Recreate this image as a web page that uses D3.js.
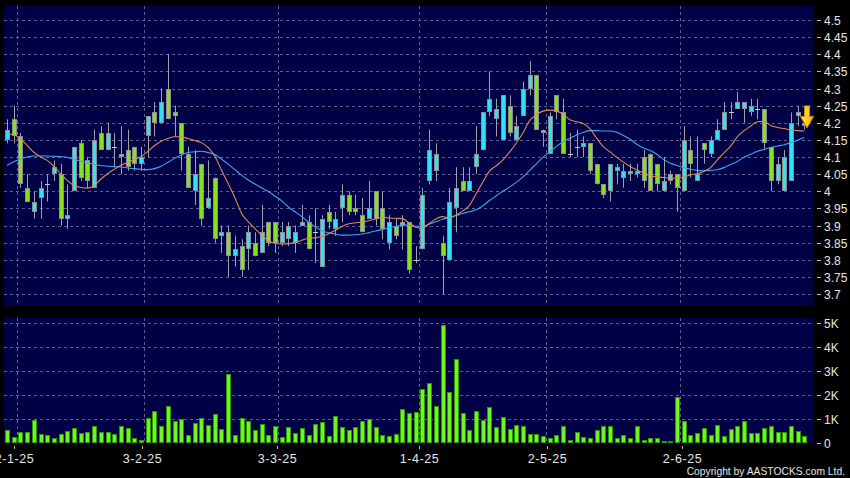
<!DOCTYPE html>
<html><head><meta charset="utf-8">
<script src="https://cdn.jsdelivr.net/npm/d3@7/dist/d3.min.js"></script>
<style>
html,body{margin:0;padding:0;background:#000;}
svg{display:block;}
text{font-family:"Liberation Sans",Arial,sans-serif;fill:#e6e6e6;}
</style></head><body>
<svg id="c" width="850" height="478"></svg>
<script>
// ---- categories (trading days) ----
const dates = [
"2024-12-30","2024-12-31","2025-01-02","2025-01-03",
"2025-01-06","2025-01-07","2025-01-08","2025-01-09","2025-01-10",
"2025-01-13","2025-01-14","2025-01-15","2025-01-16","2025-01-17",
"2025-01-20","2025-01-21","2025-01-22","2025-01-23","2025-01-24",
"2025-01-27","2025-01-28",
"2025-02-03","2025-02-04","2025-02-05","2025-02-06","2025-02-07",
"2025-02-10","2025-02-11","2025-02-12","2025-02-13","2025-02-14",
"2025-02-17","2025-02-18","2025-02-19","2025-02-20","2025-02-21",
"2025-02-24","2025-02-25","2025-02-26","2025-02-27","2025-02-28",
"2025-03-03","2025-03-04","2025-03-05","2025-03-06","2025-03-07",
"2025-03-10","2025-03-11","2025-03-12","2025-03-13","2025-03-14",
"2025-03-17","2025-03-18","2025-03-19","2025-03-20","2025-03-21",
"2025-03-24","2025-03-25","2025-03-26","2025-03-27","2025-03-28",
"2025-03-31","2025-04-01","2025-04-02","2025-04-03",
"2025-04-07","2025-04-08","2025-04-09","2025-04-10","2025-04-11",
"2025-04-14","2025-04-15","2025-04-16","2025-04-17",
"2025-04-22","2025-04-23","2025-04-24","2025-04-25",
"2025-04-28","2025-04-29","2025-04-30","2025-05-02",
"2025-05-06","2025-05-07","2025-05-08","2025-05-09",
"2025-05-12","2025-05-13","2025-05-14","2025-05-15","2025-05-16",
"2025-05-19","2025-05-20","2025-05-21","2025-05-22","2025-05-23",
"2025-05-26","2025-05-27","2025-05-28","2025-05-29","2025-05-30",
"2025-06-02","2025-06-03","2025-06-04","2025-06-05","2025-06-06",
"2025-06-09","2025-06-10","2025-06-11","2025-06-12","2025-06-13",
"2025-06-16","2025-06-17","2025-06-18","2025-06-19","2025-06-20",
"2025-06-23","2025-06-24","2025-06-25","2025-06-26"];

// ---- OHLC ----
const open = [4.15,4.21,4.16,4.01,3.94,3.98,4.02,4.05,4.05,3.92,
4.00,4.14,4.09,4.01,4.17,4.12,4.13,4.10,4.12,4.13,
4.08,4.16,4.23,4.20,4.30,4.23,4.20,4.11,4.00,4.08,
3.95,4.04,3.87,3.88,3.81,3.84,3.83,3.85,3.82,3.91,
3.91,3.85,3.86,3.85,3.90,3.91,3.88,3.78,3.94,3.89,
3.95,3.99,3.95,3.93,3.92,4.00,3.95,3.85,3.90,3.90,
3.91,3.80,3.83,4.03,4.06,3.85,3.80,3.95,4.03,4.00,
4.07,4.12,4.23,4.21,4.15,4.25,4.15,4.22,4.30,4.34,
4.18,4.11,4.28,4.23,4.11,4.13,4.13,4.14,4.08,4.02,
4.00,4.06,4.04,4.05,4.05,4.10,4.11,4.08,4.00,4.03,
4.05,4.00,4.12,4.03,4.14,4.11,4.15,4.18,4.23,4.24,
4.24,4.23,4.24,4.24,4.13,4.03,4.00,4.03,4.22,4.20];
const high = [4.21,4.25,4.17,4.05,4.00,4.03,4.05,4.09,4.08,4.02,
4.13,4.15,4.10,4.18,4.19,4.20,4.17,4.19,4.18,4.13,
4.13,4.22,4.26,4.30,4.40,4.25,4.20,4.13,4.12,4.08,
4.09,4.04,3.90,3.90,3.87,3.86,3.90,3.88,3.96,3.91,
3.91,3.91,3.91,3.90,3.96,3.93,3.95,3.93,3.96,3.94,
4.02,4.00,3.99,3.98,4.03,4.00,4.00,3.93,3.92,3.93,
3.91,3.84,4.01,4.18,4.14,3.87,4.01,4.07,4.07,4.07,
4.19,4.23,4.35,4.27,4.28,4.28,4.22,4.32,4.38,4.34,
4.18,4.23,4.28,4.27,4.17,4.18,4.16,4.14,4.08,4.02,
4.08,4.08,4.08,4.08,4.08,4.12,4.11,4.08,4.10,4.06,
4.05,4.19,4.16,4.16,4.14,4.16,4.21,4.26,4.26,4.29,
4.26,4.27,4.27,4.24,4.13,4.10,4.12,4.23,4.25,4.21];
const low = [4.14,4.14,4.01,3.97,3.92,3.92,3.97,4.03,3.90,3.89,
4.00,4.03,4.01,4.01,4.12,4.12,4.07,4.05,4.06,4.06,
4.06,4.10,4.16,4.20,4.21,4.16,4.06,4.01,3.96,3.90,
3.95,3.85,3.82,3.75,3.78,3.75,3.77,3.81,3.82,3.84,
3.82,3.84,3.84,3.82,3.90,3.83,3.79,3.78,3.89,3.87,
3.91,3.93,3.93,3.88,3.92,3.90,3.86,3.83,3.86,3.83,
3.76,3.79,3.83,4.02,4.03,3.70,3.80,3.88,4.00,4.00,
4.05,4.12,4.22,4.16,4.15,4.16,4.15,4.22,4.28,4.18,
4.13,4.11,4.21,4.11,4.10,4.10,4.10,4.05,4.02,3.98,
3.97,4.02,4.01,4.03,4.04,4.01,4.00,4.00,4.00,4.02,
3.94,4.00,4.04,4.03,4.08,4.10,4.15,4.18,4.21,4.24,
4.20,4.22,4.21,4.12,4.00,4.02,4.00,4.03,4.19,4.18];
const close = [4.18,4.16,4.02,3.97,3.97,4.01,4.02,4.07,3.92,3.93,
4.13,4.04,4.03,4.15,4.12,4.17,4.13,4.11,4.07,4.08,
4.10,4.22,4.20,4.26,4.21,4.22,4.11,4.01,4.05,3.92,
3.98,3.86,3.88,3.81,3.83,3.77,3.88,3.81,3.88,3.85,
3.85,3.88,3.90,3.88,3.91,3.83,3.88,3.92,3.91,3.92,
3.99,3.94,3.94,3.88,3.95,3.92,3.89,3.91,3.87,3.91,
3.77,3.80,3.99,4.12,4.11,3.81,3.97,4.01,4.00,4.03,
4.11,4.23,4.27,4.24,4.28,4.17,4.19,4.30,4.34,4.18,
4.17,4.22,4.23,4.11,4.11,4.13,4.14,4.06,4.02,3.99,
4.08,4.07,4.06,4.06,4.06,4.03,4.00,4.02,4.03,4.05,
4.01,4.15,4.08,4.05,4.12,4.15,4.18,4.23,4.23,4.26,
4.26,4.25,4.24,4.14,4.03,4.08,4.10,4.20,4.23,4.19];

// ---- moving averages ----
const maShort = [4.168,4.165,4.153,4.134,4.114,4.101,4.090,4.073,4.051,4.031,
4.017,4.011,4.009,4.016,4.035,4.051,4.064,4.076,4.084,4.093,
4.101,4.116,4.133,4.146,4.154,4.159,4.159,4.154,4.148,4.142,
4.128,4.103,4.062,4.023,3.982,3.936,3.911,3.891,3.872,3.855,
3.848,3.846,3.847,3.850,3.857,3.863,3.864,3.868,3.876,3.886,
3.897,3.905,3.908,3.910,3.914,3.919,3.924,3.922,3.921,3.920,
3.908,3.895,3.892,3.905,3.919,3.926,3.922,3.930,3.942,3.958,
3.992,4.026,4.059,4.074,4.091,4.114,4.140,4.170,4.206,4.223,
4.234,4.237,4.234,4.225,4.209,4.203,4.198,4.183,4.155,4.130,
4.115,4.099,4.085,4.072,4.062,4.053,4.045,4.042,4.040,4.038,
4.038,4.041,4.048,4.051,4.058,4.069,4.091,4.112,4.132,4.159,
4.177,4.190,4.203,4.204,4.192,4.186,4.183,4.179,4.177,4.176];
const maLong = [4.075,4.086,4.094,4.100,4.103,4.103,4.103,4.102,4.101,4.099,
4.093,4.088,4.083,4.079,4.075,4.073,4.072,4.071,4.068,4.066,
4.064,4.063,4.066,4.073,4.084,4.096,4.106,4.113,4.115,4.117,
4.113,4.107,4.094,4.079,4.063,4.047,4.033,4.021,4.010,3.999,
3.986,3.972,3.954,3.940,3.926,3.910,3.896,3.885,3.879,3.875,
3.872,3.872,3.873,3.875,3.879,3.884,3.888,3.894,3.897,3.901,
3.901,3.898,3.898,3.904,3.911,3.918,3.923,3.929,3.935,3.940,
3.946,3.957,3.973,3.986,4.000,4.012,4.026,4.041,4.061,4.080,
4.099,4.115,4.131,4.144,4.154,4.164,4.172,4.177,4.177,4.176,
4.176,4.172,4.163,4.152,4.137,4.126,4.119,4.108,4.093,4.082,
4.075,4.069,4.064,4.061,4.060,4.061,4.063,4.069,4.078,4.087,
4.099,4.108,4.117,4.122,4.128,4.132,4.136,4.142,4.149,4.157];

// ---- volume (shares) ----
const volume = [540,240,450,460,950,390,330,190,390,500,
610,420,460,690,450,450,380,690,630,210,
140,1040,1320,690,1530,930,990,350,830,1040,
750,1220,600,2860,330,1050,930,540,780,330,
720,260,650,400,630,350,790,875,290,1110,
670,530,670,920,1000,650,320,280,375,1430,
1240,1310,2260,2490,1560,4900,2125,3510,1250,540,
1350,970,1500,680,1070,570,760,720,360,360,
310,210,330,710,125,470,260,210,530,690,
710,220,320,210,720,125,210,210,80,70,
1900,900,330,430,610,350,740,290,570,720,
930,400,400,640,720,440,440,720,500,290];

// ---- ticks ----
const priceTicks = [4.5,4.45,4.4,4.35,4.3,4.25,4.2,4.15,4.1,4.05,4.0,3.95,3.9,3.85,3.8,3.75,3.7];
const priceTickLabels = ["4.5","4.45","4.4","4.35","4.3","4.25","4.2","4.15","4.1","4.05","4","3.95","3.9","3.85","3.8","3.75","3.7"];
const volTicks = [0,1000,2000,3000,4000,5000];
const volTickLabels = ["0","1K","2K","3K","4K","5K"];
const dateTickIdx = [2,21,41,62,81,101];
const dateTickLabels = ["2-1-25","3-2-25","3-3-25","1-4-25","2-5-25","2-6-25"];
const signalIdx = 119, signalPrice = 4.185;

// ---- layout ----
const svg = d3.select("#c");
const M = {l:4, r:814, t:6, b:306};
const V = {t:318, b:444};
const n = dates.length;
const x = d3.scaleLinear().domain([0, n-1]).range([7, 7 + 6.7*(n-1)]);
const step = x(1) - x(0);
const xLab = d3.scaleLinear().domain([2, 101]).range([13.5, 682]);
const y = d3.scaleLinear().domain([3.7, 4.5]).range([294, 20]);
const yv = d3.scaleLinear().domain([0, 5000]).range([443, 323]);

svg.append("rect").attr("width",850).attr("height",478).attr("fill","#000");
svg.append("rect").attr("x",M.l).attr("y",M.t).attr("width",M.r-M.l).attr("height",M.b-M.t).attr("fill","#000046");
svg.append("rect").attr("x",M.l).attr("y",V.t).attr("width",M.r-M.l).attr("height",V.b-V.t).attr("fill","#000046");

const defs = svg.append("defs");
defs.append("clipPath").attr("id","cm").append("rect").attr("x",M.l).attr("y",M.t).attr("width",M.r-M.l).attr("height",M.b-M.t);
defs.append("clipPath").attr("id","cv").append("rect").attr("x",M.l).attr("y",V.t).attr("width",M.r-M.l).attr("height",V.b-V.t);
const gr = defs.append("linearGradient").attr("id","ag").attr("x1",0).attr("x2",1).attr("y1",0).attr("y2",0);
gr.append("stop").attr("offset","0%").attr("stop-color","#ffe45a");
gr.append("stop").attr("offset","100%").attr("stop-color","#ffb400");

const gridStyle = s => s.attr("stroke","#5f5f92").attr("stroke-width",1).attr("stroke-dasharray","3,3");

// horizontal grids
const gGrid = svg.append("g");
gGrid.selectAll("line.hp").data(priceTicks).join("line")
  .attr("x1",M.l).attr("x2",M.r)
  .attr("y1",d=>Math.round(y(d))+0.5).attr("y2",d=>Math.round(y(d))+0.5).call(gridStyle);
gGrid.selectAll("line.hv").data(volTicks.filter(d=>d>0)).join("line").attr("class","hv")
  .attr("x1",M.l).attr("x2",M.r)
  .attr("y1",d=>Math.round(yv(d))+0.5).attr("y2",d=>Math.round(yv(d))+0.5).call(gridStyle);
// vertical grids at slot edges of the month starts
dateTickIdx.forEach(i=>{
  const gx = Math.round(x(i) - step/2) + 0.5;
  gGrid.append("line").attr("x1",gx).attr("x2",gx).attr("y1",M.t).attr("y2",M.b).call(gridStyle);
  gGrid.append("line").attr("x1",gx).attr("x2",gx).attr("y1",V.t).attr("y2",V.b).call(gridStyle);
});

// candles
const data = dates.map((d,i)=>({i, o:open[i], h:high[i], l:low[i], c:close[i], v:volume[i]}));
const gC = svg.append("g").attr("clip-path","url(#cm)");
const cyan = "#30e3f2", green = "#86e11f";
data.forEach(d=>{
  const cx = Math.round(x(d.i));
  gC.append("line").attr("x1",cx+0.5).attr("x2",cx+0.5)
    .attr("y1",y(d.h)).attr("y2",y(d.l)).attr("stroke","#a0a0a8").attr("stroke-width",1);
  if (d.o === d.c) {
    const yy = Math.round(y(d.o)) + 0.5;
    gC.append("line").attr("x1",cx-2).attr("x2",cx+3).attr("y1",yy).attr("y2",yy)
      .attr("stroke","#c8c8d0").attr("stroke-width",1);
  } else {
    const top = Math.round(y(Math.max(d.o,d.c))), bot = Math.round(y(Math.min(d.o,d.c)));
    gC.append("rect").attr("x",cx-1.5).attr("y",top+0.5)
      .attr("width",4).attr("height",Math.max(bot-top-1,1))
      .attr("fill", d.c > d.o ? cyan : green)
      .attr("stroke","#8c8c96").attr("stroke-width",1);
  }
});

// moving averages
const lineGen = arr => d3.line().x((v,i)=>x(i)).y(v=>y(v)).curve(d3.curveMonotoneX)(arr);
gC.append("path").attr("d",lineGen(maLong)).attr("fill","none").attr("stroke","#3ca6f0").attr("stroke-width",1.1);
gC.append("path").attr("d",lineGen(maShort)).attr("fill","none").attr("stroke","#e08a52").attr("stroke-width",1.1);

// signal arrow
{
  const tx = Math.round(x(signalIdx)) + 3, ty = y(signalPrice);
  const p = d3.path();
  p.moveTo(tx-2.5, ty-22); p.lineTo(tx+2.5, ty-22); p.lineTo(tx+2.5, ty-11.5);
  p.lineTo(tx+6.5, ty-11.5); p.lineTo(tx, ty); p.lineTo(tx-6.5, ty-11.5);
  p.lineTo(tx-2.5, ty-11.5); p.closePath();
  svg.append("path").attr("d",p.toString()).attr("fill","url(#ag)").attr("stroke","#c98a00").attr("stroke-width",1);
}

// volume bars
const gV = svg.append("g").attr("clip-path","url(#cv)");
gV.selectAll("rect").data(data).join("rect")
  .attr("x",d=>Math.round(x(d.i))-1.5)
  .attr("y",d=>Math.round(yv(d.v))+0.5)
  .attr("width",4)
  .attr("height",d=>Math.max(Math.round(yv(0))-Math.round(yv(d.v))-1,1))
  .attr("fill","#6cf81c").attr("stroke","#2f9400").attr("stroke-width",1);

// right price axis
const gA = svg.append("g");
priceTicks.forEach((t,k)=>{
  const yy = Math.round(y(t))+0.5;
  gA.append("line").attr("x1",817).attr("x2",821).attr("y1",yy).attr("y2",yy).attr("stroke","#bbb");
  gA.append("text").attr("x",824).attr("y",yy).attr("dy","0.36em").attr("font-size","12px").text(priceTickLabels[k]);
});
volTicks.forEach((t,k)=>{
  const yy = Math.round(yv(t))+0.5;
  gA.append("line").attr("x1",817).attr("x2",821).attr("y1",yy).attr("y2",yy).attr("stroke","#bbb");
  gA.append("text").attr("x",824).attr("y",yy).attr("dy","0.36em").attr("font-size","12px").text(volTickLabels[k]);
});

// date axis
dateTickIdx.forEach((i,k)=>{
  const tx = Math.round(xLab(i))+0.5;
  gA.append("line").attr("x1",tx).attr("x2",tx).attr("y1",446).attr("y2",449).attr("stroke","#bbb");
  gA.append("text").attr("x",tx).attr("y",462.5).attr("text-anchor","middle")
    .attr("font-size","12.5px").attr("letter-spacing","0.6px").text(dateTickLabels[k]);
});

svg.append("text").attr("x",845).attr("y",475).attr("text-anchor","end")
  .attr("font-size","10.3px").text("Copyright by AASTOCKS.com Ltd.");
</script>
</body></html>
